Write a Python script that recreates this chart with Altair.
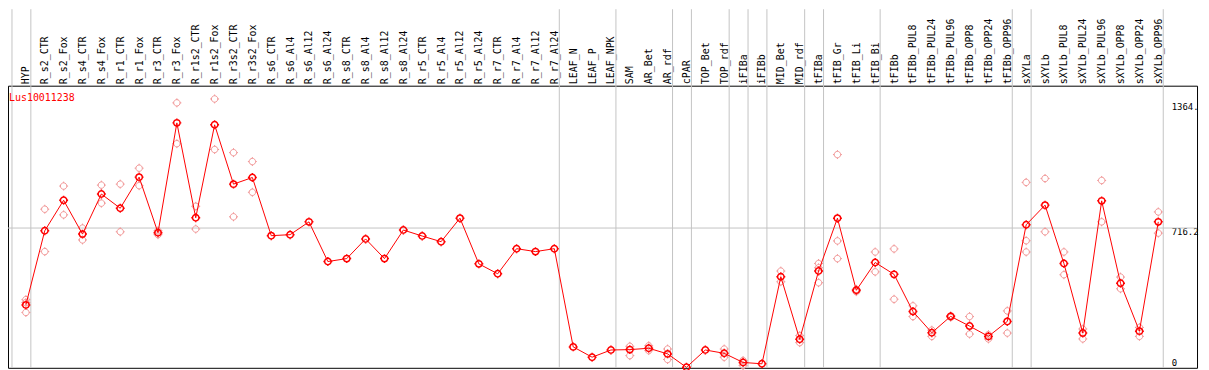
import altair as alt
import pandas as pd

gene_id = "Lus10011238"

categories = [
    "HYP",
    "R_s2_CTR", "R_s2_Fox", "R_s4_CTR", "R_s4_Fox", "R_r1_CTR", "R_r1_Fox",
    "R_r3_CTR", "R_r3_Fox", "R_r1s2_CTR", "R_r1s2_Fox", "R_r3s2_CTR", "R_r3s2_Fox",
    "R_s6_CTR", "R_s6_Al4", "R_s6_Al12", "R_s6_Al24", "R_s8_CTR", "R_s8_Al4",
    "R_s8_Al12", "R_s8_Al24", "R_r5_CTR", "R_r5_Al4", "R_r5_Al12", "R_r5_Al24",
    "R_r7_CTR", "R_r7_Al4", "R_r7_Al12", "R_r7_Al24",
    "LEAF_N", "LEAF_P", "LEAF_NPK",
    "SAM", "AR_Bet", "AR_rdf",
    "cPAR",
    "TOP_Bet", "TOP_rdf",
    "iFIBa",
    "iFIBb",
    "MID_Bet", "MID_rdf",
    "tFIBa",
    "tFIB_Gr", "tFIB_Li", "tFIB_Bi",
    "tFIBb", "tFIBb_PUL8", "tFIBb_PUL24", "tFIBb_PUL96", "tFIBb_OPP8", "tFIBb_OPP24", "tFIBb_OPP96",
    "sXYLa",
    "sXYLb", "sXYLb_PUL8", "sXYLb_PUL24", "sXYLb_PUL96", "sXYLb_OPP8", "sXYLb_OPP24", "sXYLb_OPP96",
]

group_sizes = [1, 28, 3, 3, 1, 2, 1, 1, 2, 1, 3, 7, 1, 7]

mean_values = [
    321,
    702, 859, 685, 891, 818, 978, 692, 1257, 769, 1247, 942, 976,
    677, 682, 748, 544, 559, 660, 559, 706, 675, 646, 767, 532,
    481, 610, 595, 610,
    105, 52, 89,
    91, 98, 69,
    0,
    89, 72,
    25,
    18,
    466, 144,
    495,
    767, 396, 539,
    478, 287, 178, 262, 212, 159, 236,
    733,
    834, 534, 176, 856, 432, 186, 748,
]

replicate_values = [
    [348, 333, 282],
    [813, 595], [932, 784], [716, 655], [937, 844], [942, 697], [1024, 934],
    [702, 682], [1360, 1150], [828, 711], [1380, 1120], [1104, 774], [1058, 900],
    [], [], [], [], [], [], [], [], [], [], [], [],
    [], [], [], [],
    [], [], [],
    [108, 60], [111, 86], [94, 40],
    [],
    [], [94, 52],
    [35, 9],
    [],
    [495, 440], [163, 127],
    [534, 512, 435],
    [1094, 650, 559], [401, 389], [593, 491],
    [609, 350], [316, 261], [191, 159], [265, 257], [261, 171], [168, 146], [290, 176],
    [951, 651, 593],
    [971, 697], [593, 476], [197, 146], [961, 748], [464, 404], [205, 159], [799, 690],
]

y_ticks = [0, 716.2, 1364]
y_tick_labels = ["0", "716.2", "1364."]
reference_value = 716.2

# ---- tables built from the arrays above ----
means_df = pd.DataFrame({"i": list(range(len(categories))), "cat": categories, "v": mean_values})
rep_rows = []
for i, vals in enumerate(replicate_values):
    for v in vals:
        rep_rows.append({"i": i, "cat": categories[i], "v": v})
reps_df = pd.DataFrame(rep_rows)

bounds = [-1]
acc = -1
for g in group_sizes:
    acc += g
    bounds.append(acc)
bounds_df = pd.DataFrame({"b": bounds})
ref_df = pd.DataFrame({"v": [reference_value]})
gene_df = pd.DataFrame({"t": [gene_id]})

W, H = 1197, 284
TOP = 77
STEP = 19.0
FIRST = 18.0
x_scale = alt.Scale(domain=[-FIRST / STEP, (W - FIRST) / STEP], nice=False, zero=False)
y_scale = alt.Scale(domain=[-2.55, 1448.2], nice=False, zero=False)

cat_array = "[" + ",".join("'" + c + "'" for c in categories) + "]"
tick_vals = "[" + ",".join(str(t) for t in y_ticks) + "]"
tick_labs = "[" + ",".join("'" + t + "'" for t in y_tick_labels) + "]"

x_axis = alt.Axis(
    orient="top", values=list(range(len(categories))), labelExpr=cat_array + "[datum.value]",
    labelAngle=270, labelFont="DejaVu Sans Mono", labelFontSize=10, labelColor="black",
    ticks=False, domain=False, grid=False, labelOverlap=False, labelBound=False,
    labelFlush=False, labelPadding=2, title=None,
)
y_axis = alt.Axis(
    orient="right", values=y_ticks, labelExpr=tick_labs + "[indexof(" + tick_vals + ", datum.value)]",
    offset=-26, ticks=False, domain=False, grid=False, labelPadding=0,
    labelFont="DejaVu Sans Mono", labelFontSize=9, labelColor="black",
    labelBaseline={"expr": "datum.value == 0 ? 'bottom' : 'top'"},
    labelFlush=False, labelOverlap=False, labelBound=False, title=None,
)

X = alt.X("i:Q", scale=x_scale, axis=x_axis)
Y = alt.Y("v:Q", scale=y_scale, axis=y_axis)

r = 0.72
k = round(r * 0.5523, 4)
marker = (
    f"M{r},0"
    f"C{r},{k} {k},{r} 0,{r}"
    f"C-{k},{r} -{r},{k} -{r},0"
    f"C-{r},-{k} -{k},-{r} 0,-{r}"
    f"C{k},-{r} {r},-{k} {r},0Z"
    f"M0,-1L0,-{r}M0,{r}L0,1M-1,0L-{r},0M{r},0L1,0"
)

bound_rules = alt.Chart(bounds_df).transform_calculate(
    i="datum.b + 5 / 19"
).mark_rule(color="#c4c4c4", strokeWidth=1).encode(
    x=X,
    y=alt.value(-TOP), y2=alt.value(H),
)

ref_rule = alt.Chart(ref_df).mark_rule(color="#c4c4c4", strokeWidth=1).encode(y=Y)

reps = alt.Chart(reps_df).mark_point(
    shape=marker, size=81, filled=False, stroke="#f09494", strokeWidth=1, opacity=1
).encode(x=X, y=Y)

line = alt.Chart(means_df).mark_line(color="#ff0000", strokeWidth=1).encode(x=X, y=Y)

means = alt.Chart(means_df).mark_point(
    shape=marker, size=81, filled=False, stroke="#ff0000", strokeWidth=1.5, opacity=1
).encode(x=X, y=Y)

gene_label = alt.Chart(gene_df).mark_text(
    align="left", baseline="middle", color="#ff0000", fontSize=10, font="DejaVu Sans Mono"
).encode(text="t:N", x=alt.value(1), y=alt.value(12))

chart = alt.layer(bound_rules, ref_rule, reps, line, means, gene_label).properties(
    width=W, height=H,
    padding={"left": 0, "top": TOP, "right": 4, "bottom": 1},
    autosize=alt.AutoSizeParams(type="none"),
    background="white",
).configure_view(stroke="black", strokeWidth=1)

chart.save("out.html", embed_options={"renderer": "svg", "actions": False})
